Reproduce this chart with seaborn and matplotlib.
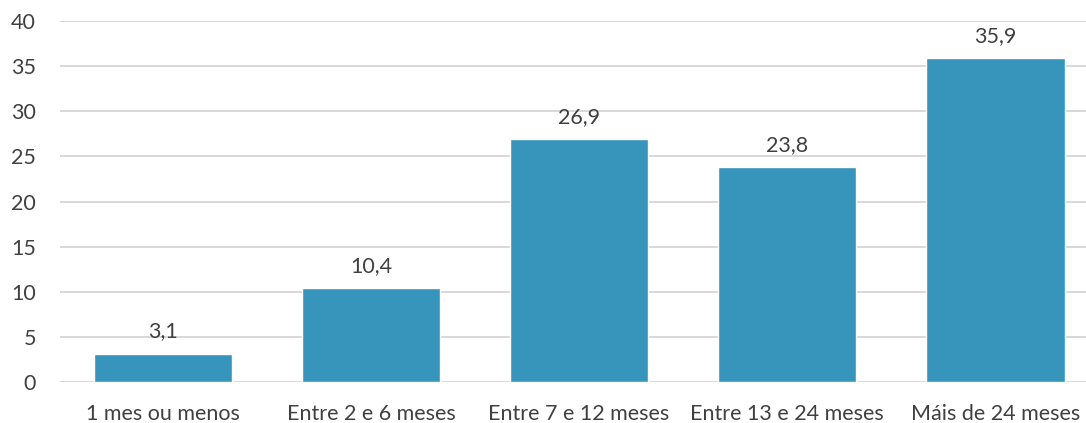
import matplotlib
matplotlib.use('Agg')
import matplotlib.pyplot as plt
import seaborn as sns
import pandas as pd

# data
categories = ['1 mes ou menos', 'Entre 2 e 6 meses', 'Entre 7 e 12 meses',
              'Entre 13 e 24 meses', 'Máis de 24 meses']
values = [3.1, 10.4, 26.9, 23.8, 35.9]
labels = ['3,1', '10,4', '26,9', '23,8', '35,9']

df = pd.DataFrame({'cat': categories, 'val': values})

sns.set_theme(style='white')
plt.rcParams['font.family'] = ['Lato', 'DejaVu Sans']
text_col = '#404040'

fig = plt.figure(figsize=(10.86, 4.23), dpi=100)
ax = fig.add_axes([0.055, 0.097, 0.945, 0.853])

sns.barplot(data=df, x='cat', y='val', color='#3795BB', saturation=1,
            width=0.665, ax=ax, zorder=3)

for i, (v, lab) in enumerate(zip(values, labels)):
    ax.annotate(lab, (i, v), textcoords='offset points', xytext=(0, 9),
                ha='center', va='bottom', fontsize=15.5, color=text_col)

ax.set_ylim(0, 40)
ax.set_yticks(range(0, 41, 5))
ax.set_xlim(-0.495, 4.435)
ax.yaxis.grid(True, color='#d6d6d6', linewidth=1.3, zorder=0)
ax.set_axisbelow(True)
for s in ax.spines.values():
    s.set_visible(False)
ax.set_xlabel('')
ax.set_ylabel('')
ax.tick_params(axis='both', length=0, labelsize=15.5, labelcolor=text_col)
ax.tick_params(axis='y', pad=17)
ax.tick_params(axis='x', pad=16)

fig.savefig('out.png', dpi=100)
